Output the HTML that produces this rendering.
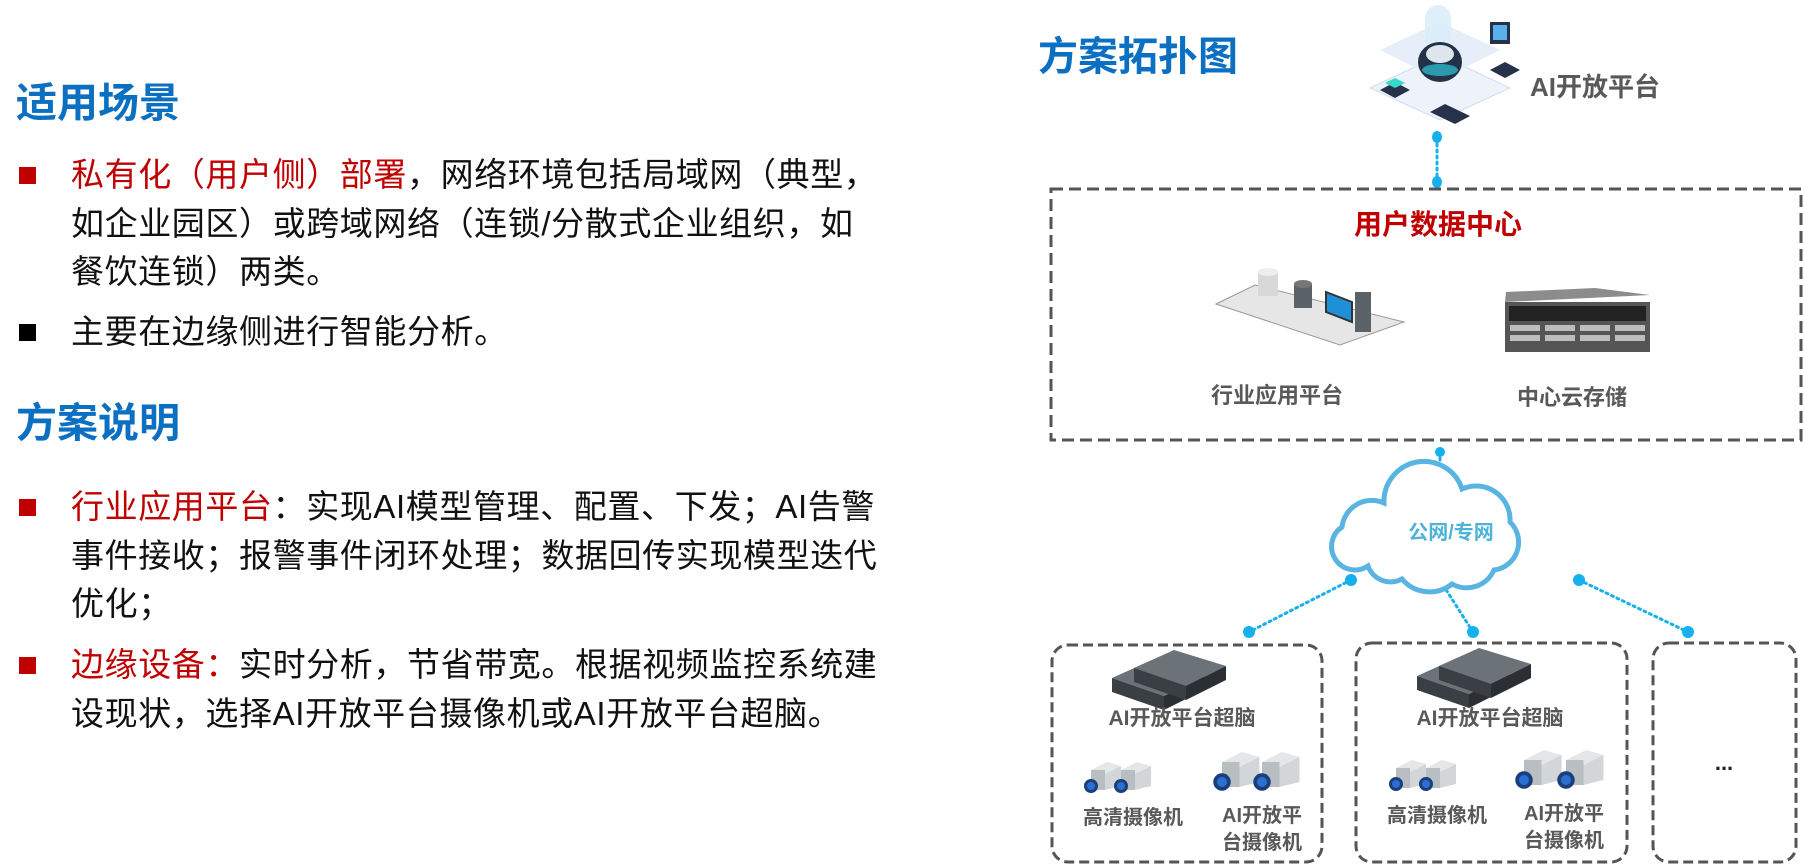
<!DOCTYPE html>
<html><head><meta charset="utf-8"><style>
body{margin:0;width:1804px;height:864px;background:#fff;position:relative;overflow:hidden;font-family:"Liberation Sans","Noto Sans CJK SC",sans-serif;}
.h{position:absolute;left:16px;font-size:41px;font-weight:bold;color:#0b6fc2;line-height:48px;}
.p{position:absolute;left:71px;font-size:33px;letter-spacing:0.6px;color:#111;line-height:48.5px;white-space:nowrap;}
.r{color:#c00000;}
.b{position:absolute;left:19px;width:17px;height:17px;}
svg{position:absolute;left:0;top:0;}
</style></head><body>
<div class="h" style="top:79px">适用场景</div>
<div class="b" style="top:167px;background:#c00000"></div>
<div class="p" style="top:151px"><span class="r">私有化（用户侧）部署</span>，网络环境包括局域网（典型，<br>如企业园区）或跨域网络（连锁/分散式企业组织，如<br>餐饮连锁）两类。</div>
<div class="b" style="top:324px;background:#000"></div>
<div class="p" style="top:308px">主要在边缘侧进行智能分析。</div>
<div class="h" style="top:399px">方案说明</div>
<div class="b" style="top:499px;background:#c00000"></div>
<div class="p" style="top:483px"><span class="r">行业应用平台</span>：实现AI模型管理、配置、下发；AI告警<br>事件接收；报警事件闭环处理；数据回传实现模型迭代<br>优化；</div>
<div class="b" style="top:657px;background:#c00000"></div>
<div class="p" style="top:641px"><span class="r">边缘设备：</span>实时分析，节省带宽。根据视频监控系统建<br>设现状，选择AI开放平台摄像机或AI开放平台超脑。</div>

<svg width="1804" height="864" viewBox="0 0 1804 864" font-family="Liberation Sans, Noto Sans CJK SC, sans-serif" font-weight="bold">
<defs>
<g id="nvr1">
 <polygon points="0,18 40,0 92,16 52,36" fill="#6b7278"/>
 <polygon points="0,18 52,36 52,50 0,32" fill="#3a3f44"/>
 <polygon points="52,36 92,16 92,30 52,50" fill="#2b2f33"/>
</g>
<g id="nvr">
 <use href="#nvr1" x="0" y="10"/>
 <use href="#nvr1" x="22" y="0"/>
</g>
<g id="cam">
 <polygon points="8,8 24,0 38,4 22,12" fill="#e4e6e8"/>
 <rect x="8" y="8" width="14" height="20" fill="#b9bec3"/>
 <polygon points="22,12 38,4 38,24 22,28" fill="#d3d6d9"/>
 <circle cx="8" cy="24" r="7" fill="#1a3f7a"/><circle cx="8" cy="24" r="4" fill="#2d6fd1"/>
</g>
</defs>
<text x="1038" y="70" font-size="40" fill="#0b6fc2">方案拓扑图</text>
<g>
 <polygon points="1370,88 1440,55 1510,88 1440,120" fill="#eef3fb" stroke="#cfdcf0"/>
 <polygon points="1380,50 1440,22 1500,50 1440,80" fill="#e6eefa"/>
 <rect x="1425" y="5" width="26" height="45" rx="13" fill="#d8ecfa" opacity=".8"/>
 <ellipse cx="1440" cy="62" rx="22" ry="20" fill="#243247"/>
 <ellipse cx="1440" cy="54" rx="14" ry="9" fill="#dde6ee"/>
 <ellipse cx="1440" cy="70" rx="18" ry="6" fill="#2fc6d9" opacity=".7"/>
 <polygon points="1380,90 1395,82 1410,90 1395,98" fill="#26324a"/>
 <polygon points="1385,83 1395,78 1405,83 1395,88" fill="#39d7c7"/>
 <polygon points="1490,70 1505,62 1520,70 1505,78" fill="#26324a"/>
 <rect x="1490" y="22" width="20" height="22" fill="#26324a"/>
 <rect x="1493" y="25" width="14" height="15" fill="#5ab0ea"/>
 <polygon points="1430,112 1445,104 1470,116 1455,124" fill="#26324a"/>
</g>
<text x="1530" y="96" font-size="26" fill="#595959">AI开放平台</text>
<g stroke="#16b0ee" stroke-width="3" stroke-dasharray="2 4" stroke-linecap="round">
 <line x1="1437" y1="138" x2="1437" y2="182"/>
 <line x1="1440" y1="452" x2="1440" y2="472"/>
 <line x1="1351" y1="580" x2="1249" y2="632"/>
 <line x1="1443" y1="585" x2="1473" y2="632"/>
 <line x1="1579" y1="580" x2="1688" y2="632"/>
</g>
<g fill="#16b0ee">
 <ellipse cx="1437" cy="137" rx="5" ry="6"/><ellipse cx="1437" cy="182" rx="5" ry="6"/>
 <ellipse cx="1440" cy="452" rx="5" ry="5"/><ellipse cx="1442" cy="473" rx="5" ry="6"/>
 <ellipse cx="1351" cy="580" rx="6" ry="6"/><ellipse cx="1249" cy="632" rx="6" ry="6"/>
 <ellipse cx="1443" cy="585" rx="5" ry="6"/><ellipse cx="1473" cy="632" rx="6" ry="6"/>
 <ellipse cx="1579" cy="580" rx="6" ry="6"/><ellipse cx="1688" cy="632" rx="6" ry="6"/>
</g>
<rect x="1051" y="189" width="750" height="251" fill="none" stroke="#555" stroke-width="3" stroke-dasharray="12 6"/>
<text x="1438" y="234" font-size="28" fill="#c00000" text-anchor="middle">用户数据中心</text>
<g>
 <polygon points="1216,304 1255,285 1404,322 1340,345" fill="#e6e6e6" stroke="#999"/>
 <rect x="1258" y="272" width="20" height="24" fill="#d8d8d8"/><ellipse cx="1268" cy="272" rx="10" ry="4" fill="#eee"/>
 <rect x="1294" y="284" width="18" height="24" fill="#5b6268"/><ellipse cx="1303" cy="284" rx="9" ry="4" fill="#777"/>
 <polygon points="1326,292 1352,302 1352,322 1326,312" fill="#1f8fd8" stroke="#333" stroke-width="2"/>
 <rect x="1355" y="292" width="16" height="40" fill="#5b6268"/>
</g>
<g>
 <polygon points="1506,292 1595,288 1650,295 1505,302" fill="#8c8c8c"/>
 <rect x="1505" y="302" width="145" height="50" fill="#555"/>
 <rect x="1509" y="306" width="137" height="15" fill="#222"/>
 <g fill="#bdbdbd"><rect x="1510" y="325" width="30" height="6"/><rect x="1545" y="325" width="30" height="6"/><rect x="1580" y="325" width="30" height="6"/><rect x="1615" y="325" width="30" height="6"/>
 <rect x="1510" y="335" width="30" height="6"/><rect x="1545" y="335" width="30" height="6"/><rect x="1580" y="335" width="30" height="6"/><rect x="1615" y="335" width="30" height="6"/></g>
</g>
<text x="1277" y="403" font-size="22" fill="#595959" text-anchor="middle">行业应用平台</text>
<text x="1572" y="405" font-size="22" fill="#595959" text-anchor="middle">中心云存储</text>
<path d="M1368,566 A22,22 0 0 1 1342,527 A30,30 0 0 1 1384,503 A40,40 0 0 1 1462,489 A34,34 0 0 1 1510,522 A28,28 0 0 1 1494,570 A30,30 0 0 1 1452,584 A36,36 0 0 1 1402,579 A24,24 0 0 1 1368,566 Z" fill="#fff" stroke="#5ab4e2" stroke-width="5"/>
<text x="1451" y="539" font-size="20" fill="#4eb3d6" text-anchor="middle">公网/专网</text>
<g fill="none" stroke="#555" stroke-width="3" stroke-dasharray="10 5">
 <rect x="1052" y="645" width="270" height="217" rx="16"/>
 <rect x="1356" y="643" width="271" height="219" rx="16"/>
 <rect x="1653" y="643" width="143" height="219" rx="16"/>
</g>
<use href="#nvr" x="1112" y="650"/>
<use href="#nvr" x="1417" y="648"/>
<text x="1182" y="725" font-size="21" fill="#595959" text-anchor="middle">AI开放平台超脑</text>
<text x="1490" y="725" font-size="21" fill="#595959" text-anchor="middle">AI开放平台超脑</text>
<use href="#cam" x="1083" y="762"/><use href="#cam" x="1113" y="762"/>
<g transform="translate(1212,752) scale(1.25)"><use href="#cam"/></g>
<g transform="translate(1252,752) scale(1.25)"><use href="#cam"/></g>
<use href="#cam" x="1388" y="760"/><use href="#cam" x="1418" y="760"/>
<g transform="translate(1514,750) scale(1.25)"><use href="#cam"/></g>
<g transform="translate(1556,750) scale(1.25)"><use href="#cam"/></g>
<g font-size="20" fill="#595959" text-anchor="middle">
 <text x="1133" y="824">高清摄像机</text>
 <text x="1262" y="822">AI开放平</text><text x="1262" y="849">台摄像机</text>
 <text x="1437" y="822">高清摄像机</text>
 <text x="1564" y="820">AI开放平</text><text x="1564" y="847">台摄像机</text>
</g>
<text x="1724" y="770" font-size="22" fill="#222" text-anchor="middle">...</text>
</svg>
</body></html>
